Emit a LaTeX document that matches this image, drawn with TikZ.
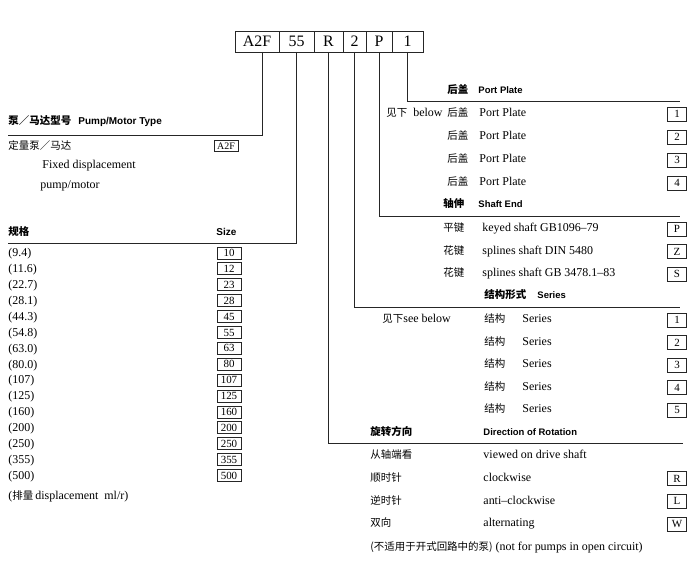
\documentclass[tikz,border=0pt]{standalone}
\usepackage{fontspec}
\setmainfont{Liberation Serif}
\setsansfont{Liberation Sans}
\newfontfamily\cjk{Noto Sans CJK SC}
\newcommand{\zh}[1]{{\cjk\fontsize{10.5}{12}\selectfont #1}}
\usetikzlibrary{positioning}
\tikzset{
  txt/.style={anchor=west, inner sep=0pt, text height=8bp, text depth=2.5bp, font=\fontsize{12}{12}\selectfont},
  cn/.style={txt, font=\cjk\fontsize{10.5}{12}\selectfont},
  hd/.style={txt, font=\sffamily\bfseries\fontsize{9.5}{12}\selectfont},
  hdcn/.style={txt, font=\cjk\bfseries\fontsize{10.5}{12}\selectfont},
  code/.style={draw, anchor=center, inner sep=0pt, minimum width=19bp, minimum height=14bp, font=\fontsize{11}{11}\selectfont},
  szbox/.style={code, minimum width=24bp, minimum height=12bp},
  cell/.style={draw, inner sep=0pt, outer sep=0pt, minimum height=21bp, font=\fontsize{16}{16}\selectfont},
}
\begin{document}
\begin{tikzpicture}[x=1bp, y=-1bp, line width=0.9bp, draw=black!85]
    \useasboundingbox (0,0) rectangle (700,580);
    % type code
    \node[cell, minimum width=44bp] (cA2F) at (257,41.5) {A2F};
    \node[cell, minimum width=35bp, right=0pt of cA2F] (c55) {55};
    \node[cell, minimum width=29bp, right=0pt of c55] (cR) {R};
    \node[cell, minimum width=23bp, right=0pt of cR] (c2) {2};
    \node[cell, minimum width=26bp, right=0pt of c2] (cP) {P};
    \node[cell, minimum width=31bp, right=0pt of cP] (c1) {1};

    \coordinate (tType) at (8,135);
    \coordinate (tSize) at (8,243);
    \coordinate (tRot) at (683,443);
    \coordinate (tSer) at (680,307);
    \coordinate (tShaft) at (680,216);
    \coordinate (tPort) at (680,101);
    \draw ([xshift=5bp]cA2F.south) |- (tType);
    \draw (c55.south) |- (tSize);
    \draw (cR.south) |- (tRot);
    \draw (c2.south) |- (tSer);
    \draw (cP.south) |- (tShaft);
    \draw (c1.south) |- (tPort);

    % pump/motor type
    \node[hdcn] (typez) at (8,122) {泵／马达型号};
    \node[hd, font=\sffamily\bfseries\fontsize{10}{12}\selectfont] (typee) at (78,122) {Pump/Motor Type};
    \node[cn] (fixz) at (8,147) {定量泵／马达};
    \node[szbox, minimum height=11bp, font=\fontsize{10}{10}\selectfont] (bA2F) at (226,146) {A2F};
    \node[txt] (fixe) at (42,166) {Fixed displacement};
    \node[txt] (fixm) at (40,186) {pump/motor};

    % size
    \node[hdcn] (sizez) at (8,233) {规格};
    \node[hd, font=\sffamily\bfseries\fontsize{10}{12}\selectfont] (sizee) at (216,233) {Size};
    \foreach \d/\s [count=\i from 0] in {9.4/10,11.6/12,22.7/23,28.1/28,44.3/45,54.8/55,63.0/63,80.0/80,107/107,125/125,160/160,200/200,250/250,355/355,500/500}{
        \node[txt] (d\s) at (8,{254+15.9*\i}) {(\d)};
        \node[szbox] (s\s) at (229,{253+15.9*\i}) {\s};
    }
    \node[txt] (disp) at (8,497) {(\zh{排量}\,displacement\enspace ml/r)};

    % port plate
    \node[hdcn] (portz) at (447,91) {后盖};
    \node[hd] (porte) at (478,91) {Port Plate};
    \node[txt] (see1) at (386,114) {\zh{见下}\enspace below};
    \foreach \n [count=\i from 0] in {1,...,4}{
        \node[cn] (pz\n) at (447,{114+23*\i}) {后盖};
        \node[txt] (pe\n) at (479,{114+23*\i}) {Port Plate};
        \node[code] (pb\n) at (677,{114+23*\i}) {\n};
    }

    % shaft end
    \node[hdcn] (shaftz) at (443,205) {轴伸};
    \node[hd] (shafte) at (478,205) {Shaft End};
    \foreach \z/\e/\c [count=\i from 0] in {平键/keyed shaft GB1096–79/P, 花键/splines shaft DIN 5480/Z, 花键/splines shaft GB 3478.1–83/S}{
        \node[cn] (sz\c) at (443,{229+22.5*\i}) {\z};
        \node[txt] (se\c) at (482,{229+22.5*\i}) {\e};
        \node[code] (sb\c) at (677,{229+22.5*\i}) {\c};
    }

    % series
    \node[hdcn] (serz) at (484,296) {结构形式};
    \node[hd] (sere) at (537,296) {Series};
    \node[txt] (see2) at (382,320) {\zh{见下}see below};
    \foreach \n [count=\i from 0] in {1,...,5}{
        \node[cn] (rz\n) at (484,{320+22.5*\i}) {结构};
        \node[txt] (re\n) at (522,{320+22.5*\i}) {Series};
        \node[code] (rb\n) at (677,{320+22.5*\i}) {\n};
    }

    % direction of rotation
    \node[hdcn] (rotz) at (370,433) {旋转方向};
    \node[hd] (rote) at (483,433) {Direction of Rotation};
    \node[cn] (viewz) at (370,456) {从轴端看};
    \node[txt] (viewe) at (483,456) {viewed on drive shaft};
    \foreach \z/\e/\c [count=\i from 1] in {顺时针/clockwise/R, 逆时针/anti–clockwise/L, 双向/alternating/W}{
        \node[cn] (oz\c) at (370,{456+22.7*\i}) {\z};
        \node[txt] (oe\c) at (483,{456+22.7*\i}) {\e};
        \node[code] (ob\c) at (677,{456+22.7*\i}) {\c};
    }
    \node[txt] (note) at (370,548) {\zh{(不适用于开式回路中的泵)} (not for pumps in open circuit)};
\end{tikzpicture}
\end{document}
